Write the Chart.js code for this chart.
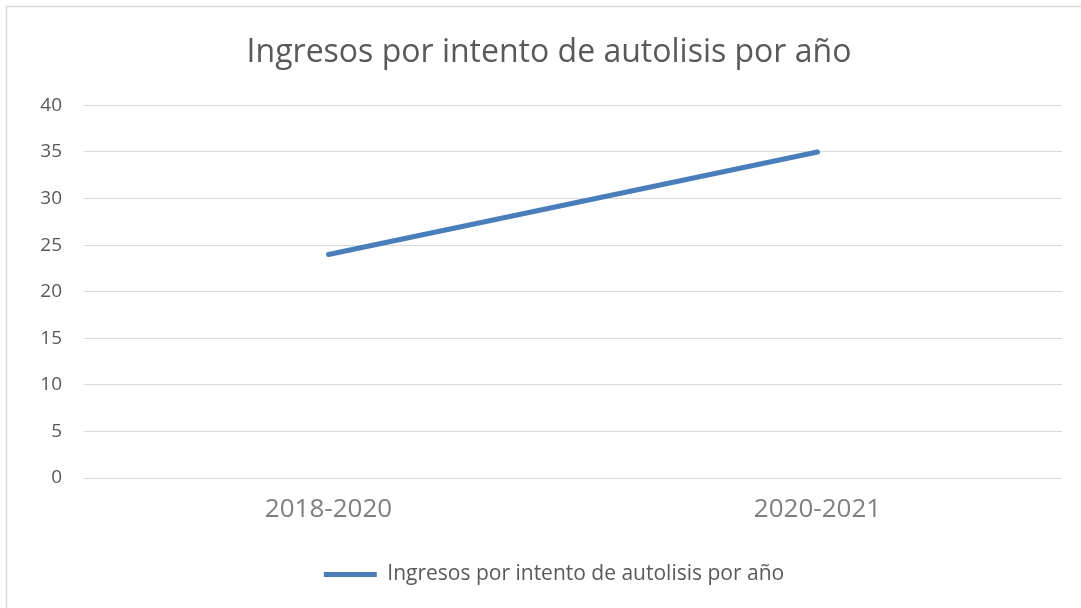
<!DOCTYPE html>
<html>
<head>
<meta charset="utf-8">
<script src="https://cdn.jsdelivr.net/npm/chart.js@4"></script>
<style>
  html, body { margin: 0; padding: 0; background: #fff; }
  canvas { display: block; }
</style>
</head>
<body>
<canvas id="chart" width="1081" height="608"></canvas>
<script>
const periods = ["2018-2020", "2020-2021"];
const admissions = [24, 35];
const seriesName = "Ingresos por intento de autolisis por año";
const chartTitle = "Ingresos por intento de autolisis por año";

const FONT = "'Open Sans', Lato, sans-serif";

// light frame round the chart, only top and left show in the picture
const framePlugin = {
  id: "frame",
  afterLayout(chart) {
    // the title and legend are centred on the whole frame, which runs past the right edge
    chart.titleBlock.right += 36;
    chart.legend.right += 46;
  },
  beforeDraw(chart) {
    const c = chart.ctx;
    c.save();
    c.fillStyle = "#fff";
    c.fillRect(0, 0, chart.width, chart.height);
    c.strokeStyle = "#d9d9d9";
    c.lineWidth = 1.5;
    c.strokeRect(6.5, 6.5, chart.width + 10, chart.height + 10);
    c.restore();
  },
};

const ctx = document.getElementById("chart").getContext("2d");
new Chart(ctx, {
  type: "line",
  data: {
    labels: periods,
    datasets: [
      {
        label: seriesName,
        data: admissions,
        borderColor: "#4a7ebb",
        backgroundColor: "#4a7ebb",
        borderWidth: 5,
        borderCapStyle: "round",
        pointRadius: 0,
        pointHoverRadius: 0,
        tension: 0,
      },
    ],
  },
  options: {
    responsive: false,
    animation: false,
    layout: { padding: { left: 0, right: 19, top: 0, bottom: 13 } },
    scales: {
      x: {
        offset: true,
        grid: { display: false, drawTicks: false },
        border: { display: false },
        ticks: { color: "#7f7f7f", font: { family: FONT, size: 26 }, padding: 16 },
        afterFit: (scale) => { scale.height = 76; },
      },
      y: {
        min: 0,
        max: 40,
        ticks: { stepSize: 5, color: "#595959", font: { family: FONT, size: 19 }, padding: 22 },
        grid: { color: "#d9d9d9", lineWidth: 1, drawTicks: false },
        border: { display: false },
        afterFit: (scale) => { scale.width = 84; },
      },
    },
    plugins: {
      title: {
        display: true,
        text: chartTitle,
        color: "#595959",
        font: { family: FONT, size: 32, weight: "normal" },
        padding: { top: 34, bottom: 33 },
      },
      legend: {
        position: "bottom",
        labels: {
          color: "#595959",
          font: { family: FONT, size: 21 },
          usePointStyle: true,
          pointStyle: "line",
          pointStyleWidth: 53,
          padding: 10,
        },
      },
      tooltip: { enabled: false },
    },
  },
  plugins: [framePlugin],
});
</script>
</body>
</html>
